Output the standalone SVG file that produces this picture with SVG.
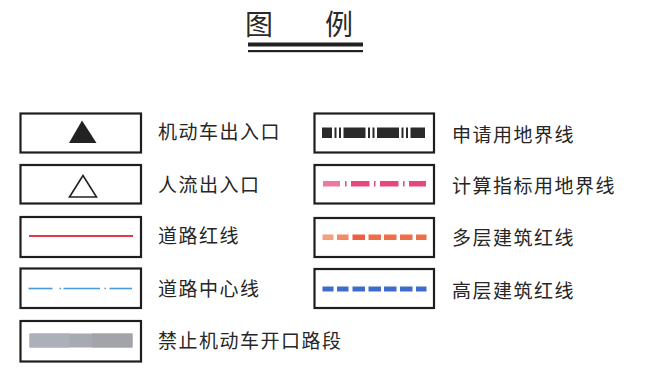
<svg xmlns="http://www.w3.org/2000/svg" width="649" height="371" viewBox="0 0 649 371">
<style>
.box{fill:#fff;stroke:#1e1e1e;stroke-width:2.2}
.lbl{font-family:"Noto Sans CJK SC","Noto Sans",sans-serif;font-size:19px;fill:#262626;letter-spacing:1.5px}
.title{font-family:"Noto Sans CJK SC","Noto Sans",sans-serif;font-size:28px;fill:#2a2a2a}
</style>
<rect width="649" height="371" fill="#fff"/>
<g id="title">
<text class="title" x="245" y="35">图</text>
<text class="title" x="325" y="35">例</text>
<rect x="248" y="42.5" width="115" height="4" fill="#222"/>
<rect x="248" y="50" width="115" height="2.2" fill="#222"/>
</g>
<g id="vehicle-entrance">
<rect class="box" x="20.5" y="113.5" width="120.5" height="39"/>
<polygon points="82,120.5 69,143 96.5,143" fill="#222"/>
<text class="lbl" x="158" y="138.5">机动车出入口</text>
</g>
<g id="pedestrian-entrance">
<rect class="box" x="20.5" y="165" width="120.5" height="38.5"/>
<polygon points="83,175.5 69.5,197 96.5,197" fill="none" stroke="#222" stroke-width="1.6"/>
<text class="lbl" x="158" y="191.5">人流出入口</text>
</g>
<g id="road-red-line">
<rect class="box" x="20.5" y="217" width="120.5" height="40"/>
<line x1="29" y1="236" x2="133" y2="236" stroke="#e5374c" stroke-width="2.2"/>
<text class="lbl" x="158" y="242.5">道路红线</text>
</g>
<g id="road-center-line">
<rect class="box" x="20.5" y="268.5" width="120.5" height="39.5"/>
<g stroke="#4a98df" stroke-width="1.6">
<line x1="28.5" y1="288.5" x2="52.5" y2="288.5"/>
<line x1="59.5" y1="288.5" x2="61" y2="288.5"/>
<line x1="63.5" y1="288.5" x2="100" y2="288.5"/>
<line x1="104.5" y1="288.5" x2="106" y2="288.5"/>
<line x1="109.5" y1="288.5" x2="132" y2="288.5"/>
</g>
<text class="lbl" x="158" y="295.5">道路中心线</text>
</g>
<g id="no-opening">
<rect class="box" x="20.5" y="321" width="120.5" height="40.5"/>
<rect x="29.5" y="333.5" width="103" height="14" fill="#a8aab1"/>
<rect x="29.5" y="333.5" width="40" height="14" fill="#aeb0b9"/>
<rect x="92" y="333.5" width="40.5" height="14" fill="#a3a4aa"/>
<text class="lbl" x="158" y="347.5">禁止机动车开口路段</text>
</g>
<g id="application-boundary">
<rect class="box" x="314.5" y="113.5" width="119.5" height="39"/>
<g fill="#2a2a2a">
<rect x="322" y="127.5" width="10" height="10.5"/>
<rect x="334.5" y="127.5" width="2" height="10.5"/>
<rect x="339" y="127.5" width="2" height="10.5"/>
<rect x="343.5" y="127.5" width="22" height="10.5"/>
<rect x="368" y="127.5" width="2" height="10.5"/>
<rect x="372.5" y="127.5" width="2" height="10.5"/>
<rect x="377" y="127.5" width="22" height="10.5"/>
<rect x="401.5" y="127.5" width="2" height="10.5"/>
<rect x="406" y="127.5" width="2" height="10.5"/>
<rect x="410.5" y="127.5" width="14.5" height="10.5"/>
</g>
<text class="lbl" x="452" y="142">申请用地界线</text>
</g>
<g id="calc-boundary">
<rect class="box" x="314.5" y="165" width="119.5" height="38.5"/>
<g fill="#e8467f">
<rect x="323" y="181" width="17" height="5.5" fill="#ec7aa0"/>
<rect x="345" y="181" width="1.5" height="5.5"/>
<rect x="351" y="181" width="18.5" height="5.5"/>
<rect x="374" y="181" width="1.5" height="5.5"/>
<rect x="380" y="181" width="18.5" height="5.5"/>
<rect x="403" y="181" width="1.5" height="5.5"/>
<rect x="409" y="181" width="17" height="5.5"/>
</g>
<text class="lbl" x="452" y="193">计算指标用地界线</text>
</g>
<g id="multi-storey-line">
<rect class="box" x="314.5" y="218" width="119.5" height="39"/>
<g fill="#ef6e4a">
<rect x="322.5" y="234.5" width="11" height="5.5" fill="#f4a27c"/>
<rect x="337" y="234.5" width="11.5" height="5.5" fill="#f28a63"/>
<rect x="352.5" y="234.5" width="12.5" height="5.5" fill="#ec5f42"/>
<rect x="368.5" y="234.5" width="12.5" height="5.5"/>
<rect x="384" y="234.5" width="12.5" height="5.5"/>
<rect x="400" y="234.5" width="12.5" height="5.5"/>
<rect x="416" y="234.5" width="10.5" height="5.5"/>
</g>
<text class="lbl" x="452" y="244.5">多层建筑红线</text>
</g>
<g id="high-rise-line">
<rect class="box" x="314.5" y="269" width="119.5" height="39"/>
<g fill="#3f6ccc">
<rect x="322.5" y="286.5" width="11" height="5"/>
<rect x="337" y="286.5" width="11.5" height="5"/>
<rect x="352.5" y="286.5" width="12.5" height="5"/>
<rect x="368.5" y="286.5" width="12.5" height="5"/>
<rect x="384" y="286.5" width="12.5" height="5"/>
<rect x="400" y="286.5" width="12.5" height="5"/>
<rect x="416" y="286.5" width="10.5" height="5"/>
</g>
<text class="lbl" x="452" y="297.5">高层建筑红线</text>
</g>
<g id="connectors"></g>
</svg>
